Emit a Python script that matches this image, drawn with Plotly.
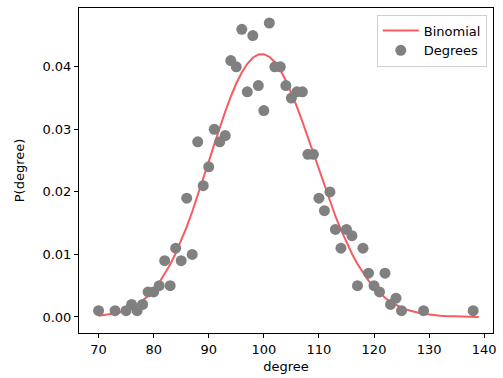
import plotly.graph_objects as go

# Observed degree distribution (scatter)
deg_x = [70, 73, 75, 76, 77, 78, 79, 80, 81, 82, 83, 84, 85, 86, 87, 88, 89, 90,
         91, 92, 93, 94, 95, 96, 97, 98, 99, 100, 101, 102, 103, 104, 105, 106,
         107, 108, 109, 110, 111, 112, 113, 114, 115, 116, 117, 118, 119, 120,
         121, 122, 123, 124, 125, 129, 138]
deg_y = [0.001, 0.001, 0.001, 0.002, 0.001, 0.002, 0.004, 0.004, 0.005, 0.009,
         0.005, 0.011, 0.009, 0.019, 0.010, 0.028, 0.021, 0.024, 0.030, 0.028,
         0.029, 0.041, 0.040, 0.046, 0.036, 0.045, 0.037, 0.033, 0.047, 0.040,
         0.040, 0.037, 0.035, 0.036, 0.036, 0.026, 0.026, 0.019, 0.017, 0.020,
         0.014, 0.011, 0.014, 0.013, 0.005, 0.011, 0.007, 0.005, 0.004, 0.007,
         0.002, 0.003, 0.001, 0.001, 0.001]

# Binomial curve values
binom_x = list(range(70, 140))
binom_y = [0.000196, 0.000286, 0.000410, 0.000579, 0.000806, 0.001105, 0.001495,
           0.001993, 0.002620, 0.003398, 0.004346, 0.005485, 0.006830, 0.008393,
           0.010180, 0.012189, 0.014409, 0.016820, 0.019390, 0.022077, 0.024830,
           0.027589, 0.030288, 0.032857, 0.035226, 0.037328, 0.039099, 0.040487,
           0.041451, 0.041963, 0.042010, 0.041594, 0.040733, 0.039459, 0.037815,
           0.035854, 0.033637, 0.031227, 0.028689, 0.026086, 0.023477, 0.020916,
           0.018447, 0.016107, 0.013925, 0.011920, 0.010105, 0.008483, 0.007053,
           0.005808, 0.004738, 0.003829, 0.003065, 0.002431, 0.001910, 0.001488,
           0.001148, 0.000878, 0.000665, 0.000500, 0.000372, 0.000274, 0.000201,
           0.000146, 0.000105, 0.000075, 0.000053, 0.000037, 0.000026, 0.000018]

x_ticks = [70, 80, 90, 100, 110, 120, 130, 140]
y_ticks = [0.00, 0.01, 0.02, 0.03, 0.04]

FONT = "DejaVu Sans, Arial, sans-serif"

fig = go.Figure()
fig.add_trace(go.Scatter(x=binom_x, y=binom_y, mode="lines", name="Binomial",
                         line=dict(color="#f75a5f", width=2)))
fig.add_trace(go.Scatter(x=deg_x, y=deg_y, mode="markers", name="Degrees",
                         marker=dict(color="#808080", size=11, line=dict(width=0))))

axis_common = dict(showline=True, mirror=True, linecolor="black", linewidth=1,
                   ticks="outside", ticklen=4, tickwidth=1, tickcolor="black",
                   showgrid=False, zeroline=False,
                   tickfont=dict(family=FONT, size=13, color="black"),
                   title_font=dict(family=FONT, size=13, color="black"))

fig.update_xaxes(range=[66.45, 141.6], tickvals=x_ticks,
                 title_text="degree", title_standoff=6, **axis_common)
fig.update_yaxes(range=[-0.00256, 0.0494], tickvals=y_ticks, tickformat=".2f",
                 title_text="P(degree)", title_standoff=14, **axis_common)

fig.update_layout(
    width=503, height=378,
    margin=dict(l=79, r=6, t=8, b=45),
    plot_bgcolor="white", paper_bgcolor="white",
    font=dict(family=FONT, size=13, color="black"),
    legend=dict(x=0.985, y=0.98, xanchor="right", yanchor="top",
                bgcolor="white", bordercolor="#d0d0d0", borderwidth=1,
                font=dict(family=FONT, size=13, color="black"),
                itemwidth=36, tracegroupgap=2),
    showlegend=True,
)

fig.write_html("out.html", config={"displayModeBar": False},
               post_script="document.body.style.margin='0';")
